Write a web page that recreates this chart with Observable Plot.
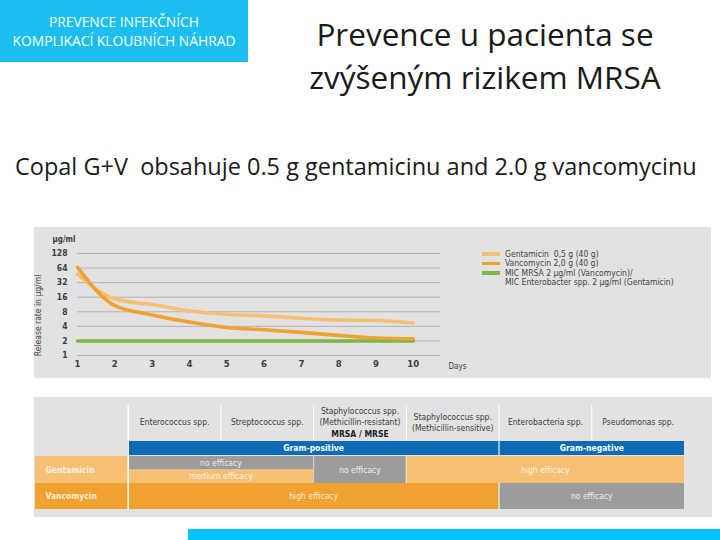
<!DOCTYPE html>
<html><head><meta charset="utf-8">
<script src="https://cdn.jsdelivr.net/npm/d3@7"></script>
<script src="https://cdn.jsdelivr.net/npm/@observablehq/plot@0.6"></script>
<style>
html,body{margin:0;padding:0;background:#fff;}
body{width:720px;height:540px;position:relative;overflow:hidden;font-family:"Open Sans",sans-serif;}
.abs{position:absolute;}
#badge{left:0;top:0;width:248px;height:62px;background:#1BBEF1;color:#fff;text-align:center;font-size:13.8px;line-height:19px;padding-top:12px;box-sizing:border-box;}
#title{left:290px;top:12px;width:390px;text-align:center;font-size:31.5px;line-height:43px;color:#1a1a1a;}
#sub{left:15px;top:150px;white-space:pre;font-size:23.5px;color:#1a1a1a;}
#chart{left:34px;top:227px;}
#table{left:34px;top:397px;}
#bar{left:188px;top:529px;width:532px;height:11px;background:#00C3FD;}
.legend{position:absolute;left:448px;top:22px;font-family:"DejaVu Sans Condensed","Liberation Sans Narrow",sans-serif;font-stretch:condensed;font-size:8.5px;color:#444;}
.legend .row{height:9.5px;display:flex;align-items:center;white-space:pre;}
.legend .sw{width:18px;height:3.5px;margin-right:5px;}
.legend .nosw{width:18px;margin-right:5px;}
</style></head><body>
<div class="abs" id="badge">PREVENCE INFEKČNÍCH<br>KOMPLIKACÍ KLOUBNÍCH NÁHRAD</div>
<div class="abs" id="title">Prevence u pacienta se<br>zvýšeným rizikem MRSA</div>
<div class="abs" id="sub">Copal G+V  obsahuje 0.5 g gentamicinu and 2.0 g vancomycinu</div>
<div class="abs" id="chart"></div>
<div class="abs" id="table"></div>
<div class="abs" id="bar"></div>
<script>
// ---- data: release curve ----
const days = [1, 2, 3, 4, 5, 6, 7, 8, 9, 10];
const gentamicin = [48, 14.7, 11.3, 8.3, 7.1, 6.6, 5.9, 5.4, 5.3, 4.7];
const vancomycin = [66, 10.7, 6.9, 4.9, 3.8, 3.4, 3.0, 2.6, 2.3, 2.2];
const mic = [2, 2, 2, 2, 2, 2, 2, 2, 2, 2];
const yTicks = [1, 2, 4, 8, 16, 32, 64, 128];
const legendLabels = ["Gentamicin  0,5 g (40 g)", "Vancomycin 2,0 g (40 g)", "MIC MRSA 2 µg/ml (Vancomycin)/", "MIC Enterobacter spp. 2 µg/ml (Gentamicin)"];

// ---- data: efficacy table ----
const pathogens = ["Enterococcus spp.", "Streptococcus spp.", "Staphylococcus spp.|(Methicillin-resistant)|*MRSA / MRSE", "Staphylococcus spp.|(Methicillin-sensitive)", "Enterobacteria spp.", "Pseudomonas spp."];
const gramGroups = ["Gram-positive", "Gram-positive", "Gram-positive", "Gram-positive", "Gram-negative", "Gram-negative"];
const drugs = ["Gentamicin", "Vancomycin"];
const gentamicinEfficacy = ["no/medium", "no/medium", "no", "high", "high", "high"];
const vancomycinEfficacy = ["high", "high", "high", "high", "no", "no"];
const efficacyLabels = {no: "no efficacy", medium: "medium efficacy", high: "high efficacy"};

const condensed = '"DejaVu Sans Condensed","Liberation Sans Narrow",sans-serif';
const colors = {gent: "#F6BF74", vanc: "#F0A12F", mic: "#79B844", gray: "#9C9C9C", blue: "#0D6BB6", panel: "#E2E2E2"};

// ---- chart ----
const series = [
  {name: "MIC", values: mic, color: colors.mic},
  {name: "Gentamicin", values: gentamicin, color: colors.gent},
  {name: "Vancomycin", values: vancomycin, color: colors.vanc}
];
const xMax = 10.73;
const chart = Plot.plot({
  width: 677, height: 151,
  marginLeft: 43, marginRight: 271, marginTop: 26, marginBottom: 23,
  style: {background: colors.panel, fontFamily: condensed, overflow: "visible"},
  x: {domain: [1, xMax], axis: null},
  y: {type: "log", base: 2, domain: [1, 128], axis: null},
  marks: [
    Plot.gridY(yTicks, {stroke: "#8f8f8f", strokeOpacity: 0.7, strokeWidth: 0.8}),
    Plot.axisY(yTicks, {tickSize: 0, tickPadding: 10, tickFormat: d => d, fontSize: 8.5, fontWeight: "bold", fill: "#3d3d3d", label: null}),
    Plot.axisX(days, {tickSize: 0, tickPadding: 5, tickFormat: d => d, fontSize: 9.5, fontWeight: "bold", fill: "#3d3d3d", label: null}),
    ...series.map(s => Plot.line(days, {x: d => d, y: (d, i) => s.values[i], stroke: s.color, strokeWidth: 3.6, curve: "monotone-x"})),
    Plot.text(["µg/ml"], {frameAnchor: "top-left", textAnchor: "start", lineAnchor: "middle", dx: -25, dy: -14, fontSize: 8, fill: "#3d3d3d", fontWeight: "bold"}),
    Plot.text(["Release rate in µg/ml"], {frameAnchor: "left", textAnchor: "middle", lineAnchor: "middle", rotate: -90, dx: -39, dy: 11, fontSize: 8.5, fill: "#444"}),
    Plot.text(["Days"], {frameAnchor: "bottom-right", dx: 8, dy: 11, textAnchor: "start", lineAnchor: "middle", fontSize: 8, fill: "#444"})
  ]
});
const chartEl = document.getElementById("chart");
chartEl.append(chart);
const leg = document.createElement("div");
leg.className = "legend";
const legColors = [colors.gent, colors.vanc, colors.mic, null];
legendLabels.forEach((lab, i) => {
  const r = document.createElement("div"); r.className = "row";
  const sw = document.createElement("div");
  sw.className = legColors[i] ? "sw" : "nosw";
  if (legColors[i]) sw.style.background = legColors[i];
  const t = document.createElement("span"); t.textContent = lab;
  r.append(sw, t); leg.append(r);
});
chartEl.append(leg);

// ---- table ----
function spans(values) {
  const out = []; let s = 0;
  for (let i = 1; i <= values.length; i++) {
    if (i === values.length || values[i] !== values[s]) { out.push({x1: s, x2: i, value: values[s]}); s = i; }
  }
  return out;
}
const rowBox = {head: [8, 43], group: [44, 58], Gentamicin: [59, 86], Vancomycin: [86, 112]};
const rowFill = {Gentamicin: colors.gent, Vancomycin: colors.vanc};
const cells = [];
[["Gentamicin", gentamicinEfficacy], ["Vancomycin", vancomycinEfficacy]].forEach(([drug, eff]) => {
  const [y1, y2] = rowBox[drug];
  spans(eff).forEach(sp => {
    const parts = sp.value.split("/");
    const h = (y2 - y1) / parts.length;
    parts.forEach((lv, k) => cells.push({
      x1: sp.x1, x2: sp.x2, y1: y1 + k * h, y2: y1 + (k + 1) * h,
      fill: lv === "no" ? colors.gray : rowFill[drug], label: efficacyLabels[lv]
    }));
  });
});
const labelCells = drugs.map(d => ({x1: -1, x2: 0, y1: rowBox[d][0], y2: rowBox[d][1], fill: rowFill[d], label: d}));
const groups = spans(gramGroups).map(g => ({...g, y1: rowBox.group[0], y2: rowBox.group[1]}));
const headLines = pathogens.flatMap((p, c) => {
  const ls = p.split("|");
  return ls.map((l, k) => ({c: c + 0.5, text: l.replace("*", ""), bold: l.startsWith("*"), y: 25 + (k - (ls.length - 1) / 2) * 11.3}));
});
const boundaries = rows => rows.slice(1).map(s => s.x1);
const table = Plot.plot({
  width: 678, height: 120, margin: 0,
  style: {background: colors.panel, fontFamily: condensed},
  x: {domain: [-1, 6], range: [1, 650], axis: null},
  y: {domain: [0, 120], range: [0, 120], axis: null},
  color: {type: "identity"},
  marks: [
    Plot.rect(labelCells, {x1: "x1", x2: "x2", y1: "y1", y2: "y2", fill: "fill"}),
    Plot.rect(cells, {x1: "x1", x2: "x2", y1: "y1", y2: "y2", fill: "fill"}),
    Plot.rect(groups, {x1: "x1", x2: "x2", y1: "y1", y2: "y2", fill: colors.blue}),
    Plot.ruleX(boundaries(spans(gramGroups)), {y1: rowBox.group[0], y2: rowBox.group[1], stroke: "white", strokeWidth: 1}),
    Plot.ruleX(boundaries(spans(gentamicinEfficacy)), {y1: rowBox.Gentamicin[0], y2: rowBox.Gentamicin[1], stroke: "white", strokeWidth: 0.8, strokeOpacity: 0.7}),
    Plot.ruleX(boundaries(spans(vancomycinEfficacy)), {y1: rowBox.Vancomycin[0], y2: rowBox.Vancomycin[1], stroke: "white", strokeWidth: 1}),
    Plot.ruleX(pathogens.slice(1).map((_, i) => i + 1), {y1: rowBox.head[0], y2: rowBox.head[1], stroke: "white", strokeWidth: 1}),
    Plot.ruleX([0], {y1: rowBox.head[0], y2: rowBox.Vancomycin[1], stroke: "white", strokeWidth: 1.5}),
    Plot.text(headLines.filter(d => !d.bold), {x: "c", y: "y", text: "text", fontSize: 8.5, fill: "#3d3d3d"}),
    Plot.text(headLines.filter(d => d.bold), {x: "c", y: "y", text: "text", fontSize: 8.5, fill: "#222", fontWeight: "bold"}),
    Plot.text(groups, {x: d => (d.x1 + d.x2) / 2, y: d => (d.y1 + d.y2) / 2, text: "value", fill: "white", fontWeight: "bold", fontSize: 8.5}),
    Plot.text(cells, {x: d => (d.x1 + d.x2) / 2, y: d => (d.y1 + d.y2) / 2, text: "label", fill: "white", fillOpacity: 0.85, fontSize: 8.5}),
    Plot.text(labelCells, {x: "x1", y: d => (d.y1 + d.y2) / 2, dx: 10, text: "label", textAnchor: "start", fill: "white", fillOpacity: 0.85, fontWeight: "bold", fontSize: 8.5})
  ]
});
document.getElementById("table").append(table);
</script>
</body></html>
